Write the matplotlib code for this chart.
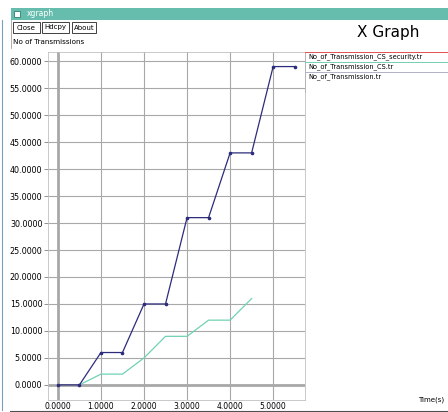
import matplotlib
matplotlib.use("Agg")
import matplotlib.pyplot as plt
from matplotlib.patches import Rectangle
from matplotlib.lines import Line2D

W, H = 448, 412

# series
time_total = [0.0, 0.5, 1.0, 1.5, 2.0, 2.5, 3.0, 3.5, 4.0, 4.5, 5.0, 5.5]
tx_total = [0, 0, 6, 6, 15, 15, 31, 31, 43, 43, 59, 59]

time_cs = [0.5, 1.0, 1.5, 2.0, 2.5, 3.0, 3.5, 4.0, 4.5]
tx_cs = [0, 2, 2, 5, 9, 9, 12, 12, 16]

x_ticks = [0, 1, 2, 3, 4, 5]
y_ticks = [0, 5, 10, 15, 20, 25, 30, 35, 40, 45, 50, 55, 60]

legend_labels = [
    "No_of_Transmission_CS_security.tr",
    "No_of_Transmission_CS.tr",
    "No_of_Transmission.tr",
]
legend_colors = ["#e05050", "#70d0b0", "#b0b0c8"]


def px(x, y):
    """pixel (from top-left) -> figure fraction"""
    return x / W, 1 - y / H


fig = plt.figure(figsize=(W / 100, H / 100), dpi=100)
fig.patch.set_facecolor("white")

# window chrome
fig.add_artist(Rectangle(px(11, 20), 437 / W, 12 / H, transform=fig.transFigure,
                         facecolor="#66bdad", edgecolor="none"))
fig.add_artist(Rectangle(px(14, 17), 6 / W, 6 / H, transform=fig.transFigure,
                         facecolor="white", edgecolor="#2f7f70", lw=0.6))
fig.text(*px(27, 14), "xgraph", fontsize=5.5, color="white", va="center")
fig.add_artist(Line2D([2 / W, 2 / W], [1 - 20 / H, 1 - 410 / H],
                      transform=fig.transFigure, color="#7a9fc0", lw=0.8))
fig.add_artist(Line2D([11 / W, 11 / W], [1 - 20 / H, 1 - 48 / H],
                      transform=fig.transFigure, color="#a0a0a0", lw=0.6))
fig.add_artist(Line2D([10 / W, 1], [1 - 410.5 / H, 1 - 410.5 / H],
                      transform=fig.transFigure, color="#505050", lw=0.8))

buttons = [("Close", 13, 27), ("Hdcpy", 42, 27), ("About", 72, 24)]
for label, bx, bw in buttons:
    fig.add_artist(Rectangle(px(bx, 33), bw / W, 11 / H, transform=fig.transFigure,
                             facecolor="white", edgecolor="#404040", lw=0.7))
    fig.text(*px(bx + bw / 2, 27.5), label, fontsize=5, ha="center", va="center")

fig.text(*px(13, 42), "No of Transmissions", fontsize=5.2, va="center")
fig.text(*px(388, 33), "X Graph", fontsize=11, ha="center", va="center")
fig.text(*px(444, 400), "Time(s)", fontsize=5, ha="right", va="center")

# plot area
left, top, right, bottom = 48, 52, 305, 400
ax = fig.add_axes([left / W, 1 - bottom / H, (right - left) / W, (bottom - top) / H])
ax.set_xlim(-0.23, 5.74)
ax.set_ylim(-2.8, 61.7)

for xv in x_ticks:
    ax.axvline(xv, color="#a8a8a8", lw=2.0 if xv == 0 else 0.8, zorder=0)
for yv in y_ticks:
    ax.axhline(yv, color="#a8a8a8", lw=2.0 if yv == 0 else 0.8, zorder=0)

ax.plot(time_cs, tx_cs, color="#6fd2b4", lw=0.9)
ax.plot(time_total, tx_total, color="#2c2c7c", lw=0.9,
        marker="o", markersize=1.6)

ax.set_xticks(x_ticks)
ax.set_yticks(y_ticks)
ax.set_xticklabels([f"{v:.4f}" for v in x_ticks])
ax.set_yticklabels([f"{v:.4f}" for v in y_ticks])
ax.tick_params(axis="y", labelsize=5.8, length=3, width=0.6, color="#808080", pad=1)
ax.tick_params(axis="x", labelsize=5.5, length=0, pad=1.5)
for s in ax.spines.values():
    s.set_color("#c0c0c0")
    s.set_linewidth(0.6)

# legend in xgraph style: colored rule above each name
fig.add_artist(Line2D([305 / W, 305 / W], [1 - 52 / H, 1 - 92 / H],
                      transform=fig.transFigure, color="#b0b0b0", lw=0.6))
for i, (lab, col) in enumerate(zip(legend_labels, legend_colors)):
    y = 52 + i * 10
    fig.add_artist(Line2D([305 / W, 1], [1 - y / H, 1 - y / H],
                          transform=fig.transFigure, color=col, lw=0.7))
    fig.text(*px(308, y + 5), lab, fontsize=4.8, va="center")

fig.savefig("out.png", dpi=100)
